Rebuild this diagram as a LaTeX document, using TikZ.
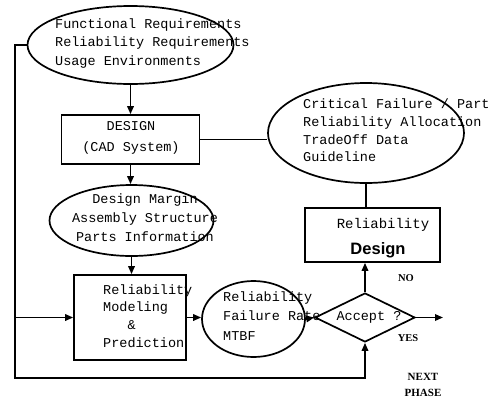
\documentclass[tikz,border=0pt]{standalone}
\usepackage{fontspec}
\setmainfont{Liberation Serif}
\setsansfont{Liberation Sans}
\setmonofont{Liberation Mono}
\usetikzlibrary{shapes.geometric,arrows.meta}
\tikzset{
  box/.style={draw, line width=1.7pt, rectangle, inner sep=0},
  oval/.style={draw, line width=1.7pt, ellipse, inner sep=0},
  dia/.style={draw, line width=1.7pt, diamond, inner sep=0},
  txt/.style={font=\ttfamily\fontsize{13.5}{18}\selectfont, inner sep=0},
  lab/.style={font=\rmfamily\bfseries\fontsize{10.5}{12}\selectfont, inner sep=0},
  arr/.style={line width=1.7pt, -{Triangle[length=8pt,width=6.5pt]}},
  ln/.style={line width=1.7pt},
}
\begin{document}
\begin{tikzpicture}[x=1pt,y=-1pt]
\useasboundingbox (0,0) rectangle (493,400);
% shapes
\node[oval, minimum width=206pt, minimum height=78pt] (e1) at (130.5,45) {};
\node[box, minimum width=138pt, minimum height=49pt] (b1) at (130.5,139.5) {};
\node[oval, minimum width=164pt, minimum height=71pt] (e2) at (131.5,220.5) {};
\node[box, minimum width=112pt, minimum height=85pt] (b3) at (130,317.5) {};
\node[oval, minimum width=103pt, minimum height=76pt] (e4) at (253.5,319) {};
\node[dia, minimum width=100pt, minimum height=49pt] (d) at (365,317.5) {};
\node[box, minimum width=135pt, minimum height=54pt] (b5) at (372.5,235) {};
\node[oval, minimum width=196pt, minimum height=100pt] (e3) at (366,133) {};
% texts
\node[txt, align=left, anchor=west, font=\ttfamily\fontsize{13.5}{18.5}\selectfont] (t1) at (55,43.5)
  {Functional Requirements\\Reliability Requirements\\Usage Environments};
\node[txt, align=center, font=\ttfamily\fontsize{13.5}{21}\selectfont] (t2) at (131,138)
  {DESIGN\\(CAD System)};
\node[txt, align=center, font=\ttfamily\fontsize{13.5}{19}\selectfont] (t3) at (145,218)
  {Design Margin\\Assembly Structure\\Parts Information};
\node[txt, align=left, anchor=west, font=\ttfamily\fontsize{13.5}{17.7}\selectfont] (t4) at (103,316)
  {Reliability\\Modeling\\\hspace*{24.3pt}\&\\Prediction};
\node[txt, align=left, anchor=west, font=\ttfamily\fontsize{13.5}{19.5}\selectfont] (t5) at (223,316)
  {Reliability\\Failure Rate\\MTBF};
\node[txt] (t6) at (369,317) {Accept ?};
\node[txt, font=\ttfamily\fontsize{14}{16}\selectfont] (t7) at (383,225) {Reliability};
\node[inner sep=0, font=\sffamily\bfseries\fontsize{16.5}{18}\selectfont] (t8) at (378,250) {Design};
\node[txt, align=left, anchor=west, font=\ttfamily\fontsize{13.5}{17.7}\selectfont] (t9) at (303,130.5)
  {Critical Failure / Part\\Reliability Allocation\\TradeOff Data\\Guideline};
\node[lab] (no) at (406,278) {NO};
\node[lab] (yes) at (408,338) {YES};
\node[lab, font=\rmfamily\bfseries\fontsize{11}{16}\selectfont, align=center] (np) at (423,385) {NEXT\\PHASE};
% connectors
\coordinate (lt) at (15,378);
\coordinate (nx) at (443,317.5);
\draw[arr] (e1.south) -- (b1.north);
\draw[arr] (b1.south) -- (b1.south |- e2.north);
\draw[arr] (e2.south) -- (e2.south |- b3.north);
\draw[ln] (b1.east) -- (b1.east -| e3.west);
\draw[arr] (b3.east) -- (b3.east -| e4.west);
\draw[arr] (e4.east) -- (d.west);
\draw[arr] (d.east) -- (nx);
\draw[arr] (d.north) -- (d.north |- b5.south);
\draw[ln] (e3.south) -- (e3.south |- b5.north);
\draw[arr] (e1.west) -- (e1.west -| lt) -- (lt) -| (d.south);
\draw[arr] (b3.west -| lt) -- (b3.west);
\end{tikzpicture}
\end{document}
